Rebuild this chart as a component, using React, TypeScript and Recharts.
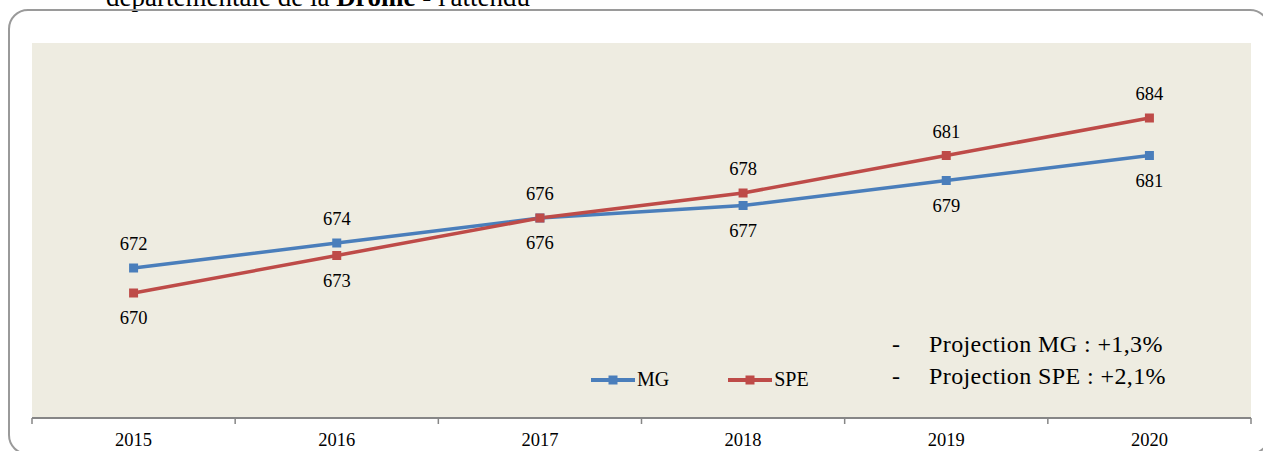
import { LineChart, Line, XAxis, YAxis, CartesianGrid, LabelList, Legend } from "recharts";

const years = ["2015", "2016", "2017", "2018", "2019", "2020"];
const mgValues = [672, 674, 676, 677, 679, 681];
const speValues = [670, 673, 676, 678, 681, 684];
const projections = ["Projection MG : +1,3%", "Projection SPE : +2,1%"];

const BLUE = "#4A7EBB";
const RED = "#BE4B48";
const FONT = '"Liberation Serif", "Times New Roman", serif';

const data = years.map((year, i) => ({ pos: i + 0.5, year, mg: mgValues[i], spe: speValues[i] }));
// integer ticks = category boundaries (tick marks), half ticks = year labels
const xTicks = Array.from({ length: years.length * 2 + 1 }, (_, i) => i / 2);

const AxisTick = ({ x, y, payload }: any) => {
  const v = payload.value;
  if (Number.isInteger(v)) {
    return <line x1={x} x2={x} y1={y} y2={y + 6} stroke="#868686" strokeWidth={1.5} />;
  }
  return (
    <text x={x} y={y + 28} textAnchor="middle" fontFamily={FONT} fontSize={18.5} fill="#000">
      {years[Math.floor(v)]}
    </text>
  );
};

const square = (color: string) => (p: any) => (
  <rect key={`sq-${p.index}`} x={p.cx - 4.5} y={p.cy - 4.5} width={9} height={9} fill={color} />
);

// the upper series gets its label above, the lower one below
const valueLabel = (own: number[], other: number[], winsTie: boolean) => (p: any) => {
  const i = p.index;
  const x = p.x ?? p.viewBox?.x;
  const y = p.y ?? p.viewBox?.y;
  const above = own[i] > other[i] || (own[i] === other[i] && winsTie);
  return (
    <text x={x} y={above ? y - 18 : y + 31} textAnchor="middle" fontFamily={FONT} fontSize={18.5} fill="#000">
      {p.value}
    </text>
  );
};

const renderLegend = (props: any) => (
  <div style={{ display: "flex", alignItems: "center", fontFamily: FONT, fontSize: 20, lineHeight: "23px" }}>
    {props.payload.map((e: any, i: number) => (
      <div key={e.value} style={{ display: "flex", alignItems: "center", marginLeft: i ? 59 : 0 }}>
        <svg width={44} height={10}>
          <line x1={0} x2={44} y1={5} y2={5} stroke={e.color} strokeWidth={4} />
          <rect x={17.5} y={0.5} width={9} height={9} fill={e.color} />
        </svg>
        <span style={{ marginLeft: 2, color: "#000" }}>{e.value}</span>
      </div>
    ))}
  </div>
);

export default function App() {
  return (
    <div style={{ position: "relative", width: 1263, height: 451, overflow: "hidden", background: "#fff" }}>
      <style>{"body{margin:0}"}</style>
      <div
        style={{
          position: "absolute",
          left: 106,
          top: -16,
          fontFamily: FONT,
          fontSize: 27,
          lineHeight: "27px",
          whiteSpace: "nowrap",
          color: "#000"
        }}
      >
        départementale de la <b>Drôme</b> - l'attendu
      </div>
      <div
        style={{
          position: "absolute",
          left: 8,
          top: 9,
          width: 1262,
          height: 446,
          boxSizing: "border-box",
          border: "2px solid #9a9a9a",
          borderRadius: 20
        }}
      />
      <div style={{ position: "absolute", left: 0, top: 0 }}>
        <LineChart width={1263} height={451} data={data} margin={{ top: 43, right: 12, left: 32, bottom: 3 }}>
          <CartesianGrid fill="#EEECE1" horizontal={false} vertical={false} stroke="none" />
          <XAxis
            type="number"
            dataKey="pos"
            domain={[0, years.length]}
            ticks={xTicks}
            interval={0}
            height={30}
            tickSize={0}
            tickMargin={0}
            tickLine={false}
            axisLine={{ stroke: "#868686", strokeWidth: 2 }}
            tick={<AxisTick />}
          />
          <YAxis hide domain={[660, 690]} />
          <Legend
            layout="horizontal"
            verticalAlign="middle"
            align="center"
            content={renderLegend}
            wrapperStyle={{ left: 591, top: 368, width: "auto", right: "auto" }}
          />
          <Line
            name="MG"
            dataKey="mg"
            stroke={BLUE}
            strokeWidth={3.5}
            dot={square(BLUE)}
            activeDot={false}
            isAnimationActive={false}
          >
            <LabelList dataKey="mg" content={valueLabel(mgValues, speValues, true)} />
          </Line>
          <Line
            name="SPE"
            dataKey="spe"
            stroke={RED}
            strokeWidth={3.5}
            dot={square(RED)}
            activeDot={false}
            isAnimationActive={false}
          >
            <LabelList dataKey="spe" content={valueLabel(speValues, mgValues, false)} />
          </Line>
        </LineChart>
      </div>
      <div
        style={{
          position: "absolute",
          left: 892,
          top: 328,
          fontFamily: FONT,
          fontSize: 24,
          lineHeight: "32px",
          letterSpacing: 0.4,
          color: "#000"
        }}
      >
        {projections.map((t) => (
          <div key={t} style={{ display: "flex", whiteSpace: "nowrap" }}>
            <span style={{ width: 37 }}>-</span>
            <span>{t}</span>
          </div>
        ))}
      </div>
    </div>
  );
}
